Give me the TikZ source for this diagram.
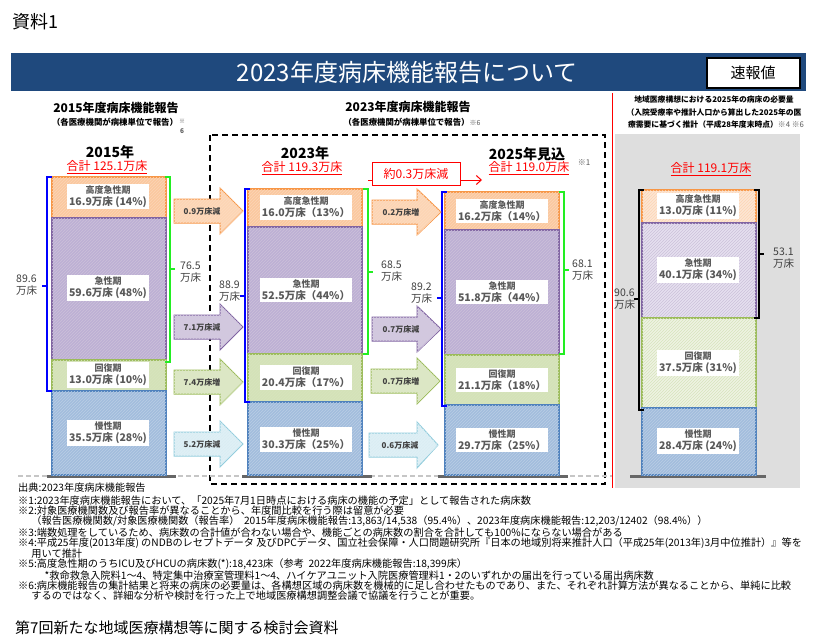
\documentclass[tikz,border=0pt]{standalone}
\usepackage{fontspec}
\setmainfont{Noto Sans CJK JP}
\usetikzlibrary{patterns,arrows.meta}
\definecolor{titleblue}{HTML}{1F497D}
\definecolor{txtgray}{HTML}{595959}
\definecolor{drkgray}{HTML}{404040}
\definecolor{oFill}{HTML}{FAC8A0}
\definecolor{oDraw}{HTML}{F79646}
\definecolor{pFill}{HTML}{BDB0D4}
\definecolor{pDraw}{HTML}{8064A2}
\definecolor{gFill}{HTML}{D4E2B8}
\definecolor{gDraw}{HTML}{9BBB59}
\definecolor{bFill}{HTML}{A3BDDD}
\definecolor{bDraw}{HTML}{4F81BD}
\definecolor{oFillL}{HTML}{FCE6D4}
\definecolor{pFillL}{HTML}{E6E0EF}
\definecolor{gFillL}{HTML}{EEF3E3}
\definecolor{oArr}{HTML}{FCD5B5}
\definecolor{pArr}{HTML}{D2C8E0}
\definecolor{gArr}{HTML}{DCE8C6}
\definecolor{cArr}{HTML}{DFF0F6}
\definecolor{cDraw}{HTML}{93CDDD}
\definecolor{panelgray}{HTML}{DEDEDE}
\definecolor{bluebrk}{HTML}{0000FF}
\definecolor{greenbrk}{HTML}{22EE22}
\newcommand{\mkseg}[6]{\node[segbox, fill=#5, draw=#6, hatch=#6!40, minimum height={#4-#3}] (#1) at (#2,{(#3+#4)/2}) {};}
\newcommand{\mklbl}[6]{\node[lblbox, minimum width=#4] (#1) at (#2,#3) {#5\\[1pt]\fontsize{10.5}{12}\selectfont #6};}
\newcommand{\mkarr}[9]{\draw[fill=#6, draw=#7, line width=1pt, hatch=#7!35] ({#2},{#5-12}) -- ({#3},{#5-12}) -- ({#3},{#5-23}) -- ({#4},{#5}) -- ({#3},{#5+23}) -- ({#3},{#5+12}) -- ({#2},{#5+12}) -- cycle;
\node[arrtxt] (#1) at ({#8},{#5}) {#9};}
\newcommand{\mkbrk}[6]{\draw[#6, line width=1.8pt] ({#1+(#5)},#2) -- (#1,#2) -- (#1,#3) -- ({#1+(#5)},#3);
\draw[#6, line width=1.8pt] (#1,#4) -- ({#1-(#5)},#4);}
\begin{document}
\begin{tikzpicture}[x=1pt,y=-1pt,
  hatch/.style={postaction={pattern=north east lines, pattern color=#1}},
  segbox/.style={line width=1.6pt, minimum width=114, inner sep=0pt},
  lblbox/.style={fill=white, inner sep=2pt, align=center, text=txtgray, font=\fontsize{9}{11}\selectfont\bfseries},
  arrtxt/.style={inner sep=0pt, text=drkgray, font=\fontsize{8}{9}\selectfont\bfseries},
  brlbl/.style={inner sep=0pt, text=drkgray, align=left, font=\fontsize{10.5}{12}\selectfont},
  hdr/.style={inner sep=0pt, font=\fontsize{12}{14}\selectfont\bfseries},
  subhdr/.style={inner sep=0pt, font=\fontsize{8.4}{10}\selectfont\bfseries},
  yr/.style={inner sep=0pt, font=\fontsize{14}{16}\selectfont\bfseries},
  tot/.style={inner sep=0pt, text=red, font=\fontsize{12}{14}\selectfont},
  rhdr/.style={inner sep=0pt, font=\fontsize{7.8}{9}\selectfont\bfseries},
  fnote/.style={inner sep=0pt, align=left, font=\fontsize{10.2}{9.95}\selectfont}]
\useasboundingbox (0,0) rectangle (813,643);
% header
\node[anchor=west, inner sep=0pt, font=\fontsize{18}{20}\selectfont] (shiryo) at (12,22) {資料1};
\node[fill=titleblue, minimum width=795, minimum height=38, anchor=north west, inner sep=0pt] (tbar) at (11,53) {};
\node[text=white, inner sep=0pt, font=\fontsize{24}{26}\selectfont] (title) at (407,72) {2023年度病床機能報告について};
\node[draw=black, line width=2pt, fill=white, minimum width=93, minimum height=30, inner sep=0pt, font=\fontsize{15}{17}\selectfont] (sokuho) at (753,72.5) {速報値};
% right panel
\fill[panelgray] (615,134) rectangle (800,488);
\draw[red, line width=1pt] (612,93) -- (612,488);
% dashed frame
\draw[line width=1.3pt, dash pattern=on 6pt off 4pt] (210,135) rectangle (605,484);
% ground
\draw[gray!45, line width=1.3pt, dash pattern=on 5pt off 3pt] (18,476) -- (612,476);
\draw[black!60, line width=3pt] (47,476) -- (176,476);
\draw[black!60, line width=3pt] (242,476) -- (372,476);
\draw[black!60, line width=3pt] (438,476) -- (568,476);
\draw[black!60, line width=3pt] (630,476) -- (766,476);
% headers
\node[hdr] (h15) at (116,108) {2015年度病床機能報告};
\node[subhdr] (h15s) at (115,122) {（各医療機関が病棟単位で報告）};
\node[inner sep=0pt, text=txtgray, font=\fontsize{6}{7}\selectfont] (h15n) at (182,121) {※};
\node[inner sep=0pt, text=txtgray, font=\fontsize{6.5}{7}\selectfont\bfseries] (h15m) at (182,131) {6};
\node[hdr] (h23) at (408,107) {2023年度病床機能報告};
\node[subhdr] (h23s) at (412,122) {（各医療機関が病棟単位で報告）{\mdseries\fontsize{7}{8}\selectfont\color{txtgray}※6}};
\node[rhdr] (rh1) at (714,100) {地域医療構想における2025年の病床の必要量};
\node[rhdr] (rh2) at (714,113) {（入院受療率や推計人口から算出した2025年の医};
\node[rhdr] (rh3) at (716,125) {療需要に基づく推計（平成28年度末時点）{\mdseries\color{txtgray}※4 ※6}};
% year labels
\node[yr] (y15) at (110,152) {2015年};
\node[yr] (y23) at (305,153) {2023年};
\node[yr] (y25) at (527,154) {2025年見込};
\node[tot] (t15) at (107,167) {\underline{合計 125.1万床}};
\node[tot] (t23) at (302,168) {\underline{合計 119.3万床}};
\node[tot] (t25) at (529,168) {\underline{合計 119.0万床}};
\node[inner sep=0pt, text=txtgray, font=\fontsize{8}{9}\selectfont] (n1) at (584,163) {※1};
\node[tot] (t4) at (711,169) {\underline{合計 119.1万床}};
% red change arrow
\coordinate (ra) at (368,180);
\coordinate (rb) at (482,180);
\draw[red, line width=1pt, -{Straight Barb[length=5pt,width=9pt]}] (ra) -- (rb);
\node[draw=red, line width=0.8pt, fill=white, text=red, minimum width=88, minimum height=23, inner sep=0pt, font=\fontsize{12}{14}\selectfont] (dec) at (416,173.5) {約0.3万床減};
% column 1 (2015)
\mkseg{a1}{109}{177}{218}{oFill}{oDraw}
\mkseg{b1}{109}{218}{360}{pFill}{pDraw}
\mkseg{c1}{109}{360}{391}{gFill}{gDraw}
\mkseg{d1}{109}{391}{475}{bFill}{bDraw}
\mklbl{a1l}{108}{196.5}{82}{高度急性期}{16.9万床 (14\%)}
\mklbl{b1l}{108}{288}{82}{急性期}{59.6万床 (48\%)}
\mklbl{c1l}{108}{375}{82}{回復期}{13.0万床 (10\%)}
\mklbl{d1l}{108}{433}{82}{慢性期}{35.5万床 (28\%)}
% column 2 (2023)
\mkseg{a2}{305}{189}{227}{oFill}{oDraw}
\mkseg{b2}{305}{227}{354}{pFill}{pDraw}
\mkseg{c2}{305}{354}{402}{gFill}{gDraw}
\mkseg{d2}{305}{402}{475}{bFill}{bDraw}
\mklbl{a2l}{306}{207.5}{88}{高度急性期}{16.0万床（13\%）}
\mklbl{b2l}{306}{290}{88}{急性期}{52.5万床（44\%）}
\mklbl{c2l}{306}{377.5}{88}{回復期}{20.4万床（17\%）}
\mklbl{d2l}{306}{439.5}{88}{慢性期}{30.3万床（25\%）}
% column 3 (2025)
\mkseg{a3}{502}{192}{230}{oFill}{oDraw}
\mkseg{b3}{502}{230}{355}{pFill}{pDraw}
\mkseg{c3}{502}{355}{405}{gFill}{gDraw}
\mkseg{d3}{502}{405}{475}{bFill}{bDraw}
\mklbl{a3l}{502}{211}{88}{高度急性期}{16.2万床（14\%）}
\mklbl{b3l}{502}{292}{88}{急性期}{51.8万床（44\%）}
\mklbl{c3l}{502}{380}{88}{回復期}{21.1万床（18\%）}
\mklbl{d3l}{502}{440}{88}{慢性期}{29.7万床（25\%）}
% column 4 (need)
\mkseg{a4}{699}{190}{223}{oFillL}{oDraw}
\mkseg{b4}{699}{223}{318}{pFillL}{pDraw}
\mkseg{c4}{699}{318}{408}{gFillL}{gDraw}
\mkseg{d4}{699}{408}{475}{bFill}{bDraw}
\mklbl{a4l}{698}{206}{80}{高度急性期}{13.0万床 (11\%)}
\mklbl{b4l}{698}{270}{80}{急性期}{40.1万床 (34\%)}
\mklbl{c4l}{698}{363}{80}{回復期}{37.5万床 (31\%)}
\mklbl{d4l}{698}{441}{80}{慢性期}{28.4万床 (24\%)}
% brackets
\mkbrk{47}{177}{391}{286}{5}{bluebrk}
\mkbrk{170}{177}{362}{269}{-5}{greenbrk}
\mkbrk{245}{189}{402}{296}{5}{bluebrk}
\mkbrk{368}{189}{354}{272}{-5}{greenbrk}
\mkbrk{442}{192}{406}{298}{5}{bluebrk}
\mkbrk{564}{192}{354}{270}{-5}{greenbrk}
\mkbrk{639}{190}{410}{299}{5}{black}
\mkbrk{759}{190}{318}{254}{-5}{black}
\node[brlbl, anchor=west] (l1b) at (16,285) {89.6\\万床};
\node[brlbl, anchor=west] (l1g) at (180,272) {76.5\\万床};
\node[brlbl, anchor=west] (l2b) at (219,291) {88.9\\万床};
\node[brlbl, anchor=west] (l2g) at (381,271) {68.5\\万床};
\node[brlbl, anchor=west] (l3b) at (411,293) {89.2\\万床};
\node[brlbl, anchor=west] (l3g) at (572,270) {68.1\\万床};
\node[brlbl, anchor=west] (l4b) at (614,299) {90.6\\万床};
\node[brlbl, anchor=west] (l4g) at (773,258) {53.1\\万床};
% change arrows 2015 -> 2023
\mkarr{ar1}{174}{220}{243}{211}{oArr}{oDraw}{202}{0.9万床減}
\mkarr{ar2}{174}{220}{243}{327}{pArr}{pDraw}{202}{7.1万床減}
\mkarr{ar3}{174}{220}{243}{382}{gArr}{gDraw}{202}{7.4万床増}
\mkarr{ar4}{174}{220}{243}{444}{cArr}{cDraw}{202}{5.2万床減}
% change arrows 2023 -> 2025
\mkarr{ar5}{372}{417}{441}{212}{oArr}{oDraw}{401}{0.2万床増}
\mkarr{ar6}{372}{417}{441}{329}{pArr}{pDraw}{401}{0.7万床減}
\mkarr{ar7}{371}{417}{440}{381}{gArr}{gDraw}{401}{0.7万床増}
\mkarr{ar8}{369}{417}{438}{445}{cArr}{cDraw}{400}{0.6万床減}
% footnotes
\node[inner sep=0pt, anchor=west, font=\fontsize{10.2}{12}\selectfont] (src) at (18,488) {出典:2023年度病床機能報告};
\node[fnote, anchor=north west] (fn) at (18,496) {%
※1:2023年度病床機能報告において、「2025年7月1日時点における病床の機能の予定」として報告された病床数\\
※2:対象医療機関数及び報告率が異なることから、年度間比較を行う際は留意が必要\\
\hspace*{1.3em}（報告医療機関数/対象医療機関数（報告率）\ \ 2015年度病床機能報告:13,863/14,538（95.4\%）、2023年度病床機能報告:12,203/12402（98.4\%））\\
※3:端数処理をしているため、病床数の合計値が合わない場合や、機能ごとの病床数の割合を合計しても100\%にならない場合がある\\
※4:平成25年度(2013年度) のNDBのレセプトデータ 及びDPCデータ、国立社会保障・人口問題研究所『日本の地域別将来推計人口（平成25年(2013年)3月中位推計）』等を\\
\hspace*{1.3em}用いて推計\\
※5:高度急性期のうちICU及びHCUの病床数(*):18,423床（参考\ \ 2022年度病床機能報告:18,399床）\\
\hspace*{2.6em}*救命救急入院料1～4、特定集中治療室管理料1～4、ハイケアユニット入院医療管理料1・2のいずれかの届出を行っている届出病床数\\
※6:病床機能報告の集計結果と将来の病床の必要量は、各構想区域の病床数を機械的に足し合わせたものであり、また、それぞれ計算方法が異なることから、単純に比較\\
\hspace*{1.3em}するのではなく、詳細な分析や検討を行った上で地域医療構想調整会議で協議を行うことが重要。};
\node[anchor=west, inner sep=0pt, font=\fontsize{15}{17}\selectfont] (foot) at (15,628) {第7回新たな地域医療構想等に関する検討会資料};
\end{tikzpicture}
\end{document}
